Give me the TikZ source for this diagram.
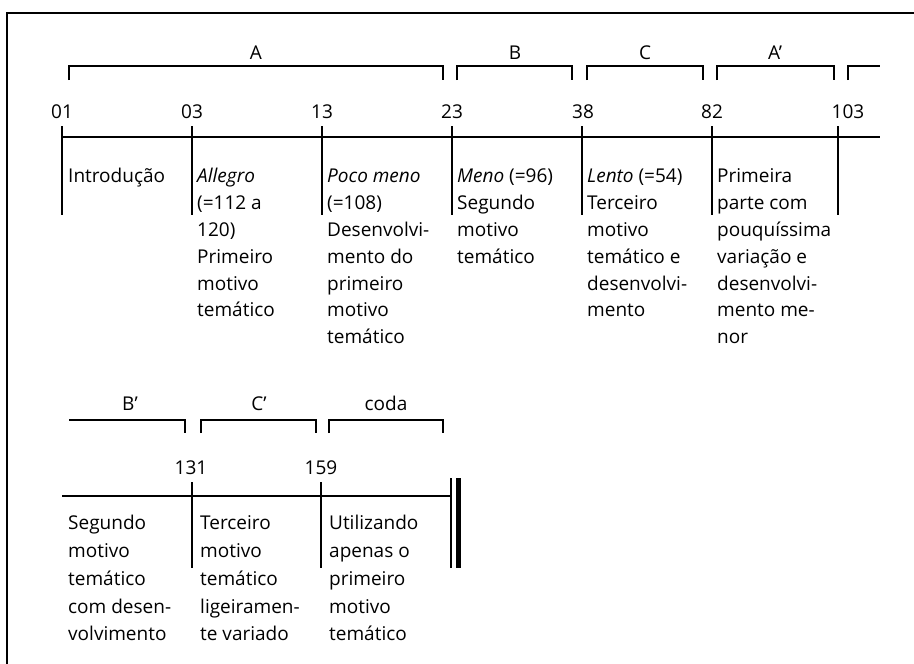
\documentclass[tikz,border=0pt]{standalone}
\usepackage{fontspec}
\setmainfont{Open Sans}
\begin{document}
\begin{tikzpicture}[x=1pt,y=-1pt,
  txtA/.style={font=\fontsize{19}{26.8}\selectfont, inner sep=0pt, anchor=north west, align=left},
  txtB/.style={font=\fontsize{19}{27.8}\selectfont, inner sep=0pt, anchor=north west, align=left},
  lbl/.style={font=\fontsize{19}{24}\selectfont, inner sep=0pt, anchor=base},
  brk/.style={line width=1.5pt},
  tl/.style={line width=1.8pt},
  tickline/.style={line width=1.6pt},
  frame/.style={line width=2pt}]
\useasboundingbox (0,0) rectangle (914,664);
\fill[white] (0,0) rectangle (914,664);
% frame
\draw[frame] (7,664) -- (7,13) -- (914,13);

% ---------- row 1 ----------
% section labels
\node[lbl] (lA) at (256,59) {A};
\node[lbl] (lB) at (515,59) {B};
\node[lbl] (lC) at (645,59) {C};
\node[lbl] (lAp) at (775,59) {A’};
% brackets
\draw[brk] (69,80) -- (69,66) -- (443,66) -- (443,80);
\draw[brk] (457,80) -- (457,66) -- (572,66) -- (572,80);
\draw[brk] (587,80) -- (587,66) -- (703,66) -- (703,80);
\draw[brk] (717,80) -- (717,66) -- (834,66) -- (834,80);
\draw[brk] (848,80) -- (848,66) -- (880,66);
% bar numbers
\node[lbl] (n01) at (62,118) {01};
\node[lbl] (n03) at (192,118) {03};
\node[lbl] (n13) at (322,118) {13};
\node[lbl] (n23) at (452,118) {23};
\node[lbl] (n38) at (583,118) {38};
\node[lbl] (n82) at (712,118) {82};
\node[lbl] (n103) at (848,118) {103};
% timeline
\draw[tl] (62,137) -- (880,137);
\foreach \x in {62,192,322,452,582,712,838}
  \draw[tickline] (\x,126) -- (\x,215);
% texts
\node[txtA] (t1) at (68,164) {\strut Introdução};
\node[txtA] (t2) at (197,164) {\strut\textit{Allegro}\\(=112 a\\120)\\Primeiro\\motivo\\temático};
\node[txtA] (t3) at (327,164) {\strut\textit{Poco meno}\\(=108)\\Desenvolvi-\\mento do\\primeiro\\motivo\\temático};
\node[txtA] (t4) at (457,164) {\strut\textit{Meno} (=96)\\Segundo\\motivo\\temático};
\node[txtA] (t5) at (587,164) {\strut\textit{Lento} (=54)\\Terceiro\\motivo\\temático e\\desenvolvi-\\mento};
\node[txtA] (t6) at (717,164) {\strut Primeira\\parte com\\pouquíssima\\variação e\\desenvolvi-\\mento me-\\nor};

% ---------- row 2 ----------
\node[lbl] (lBp) at (130,410) {B’};
\node[lbl] (lCp) at (259,410) {C’};
\node[lbl] (lcoda) at (386,410) {coda};
\draw[brk] (69,420) -- (185,420) -- (185,433);
\draw[brk] (201,433) -- (201,420) -- (316,420) -- (316,433);
\draw[brk] (329,433) -- (329,420) -- (443,420) -- (443,433);
\node[lbl] (n131) at (191,474) {131};
\node[lbl] (n159) at (321,474) {159};
\draw[tl] (62,496) -- (451,496);
\foreach \x in {192,321}
  \draw[tickline] (\x,482) -- (\x,568);
\draw[line width=1.4pt] (451,478) -- (451,568);
\fill (456,478) rectangle (461,568);
\node[txtB] (u1) at (68,510) {\strut Segundo\\motivo\\temático\\com desen-\\volvimento};
\node[txtB] (u2) at (200,510) {\strut Terceiro\\motivo\\temático\\ligeiramen-\\te variado};
\node[txtB] (u3) at (329,510) {\strut Utilizando\\apenas o\\primeiro\\motivo\\temático};
\end{tikzpicture}
\end{document}
